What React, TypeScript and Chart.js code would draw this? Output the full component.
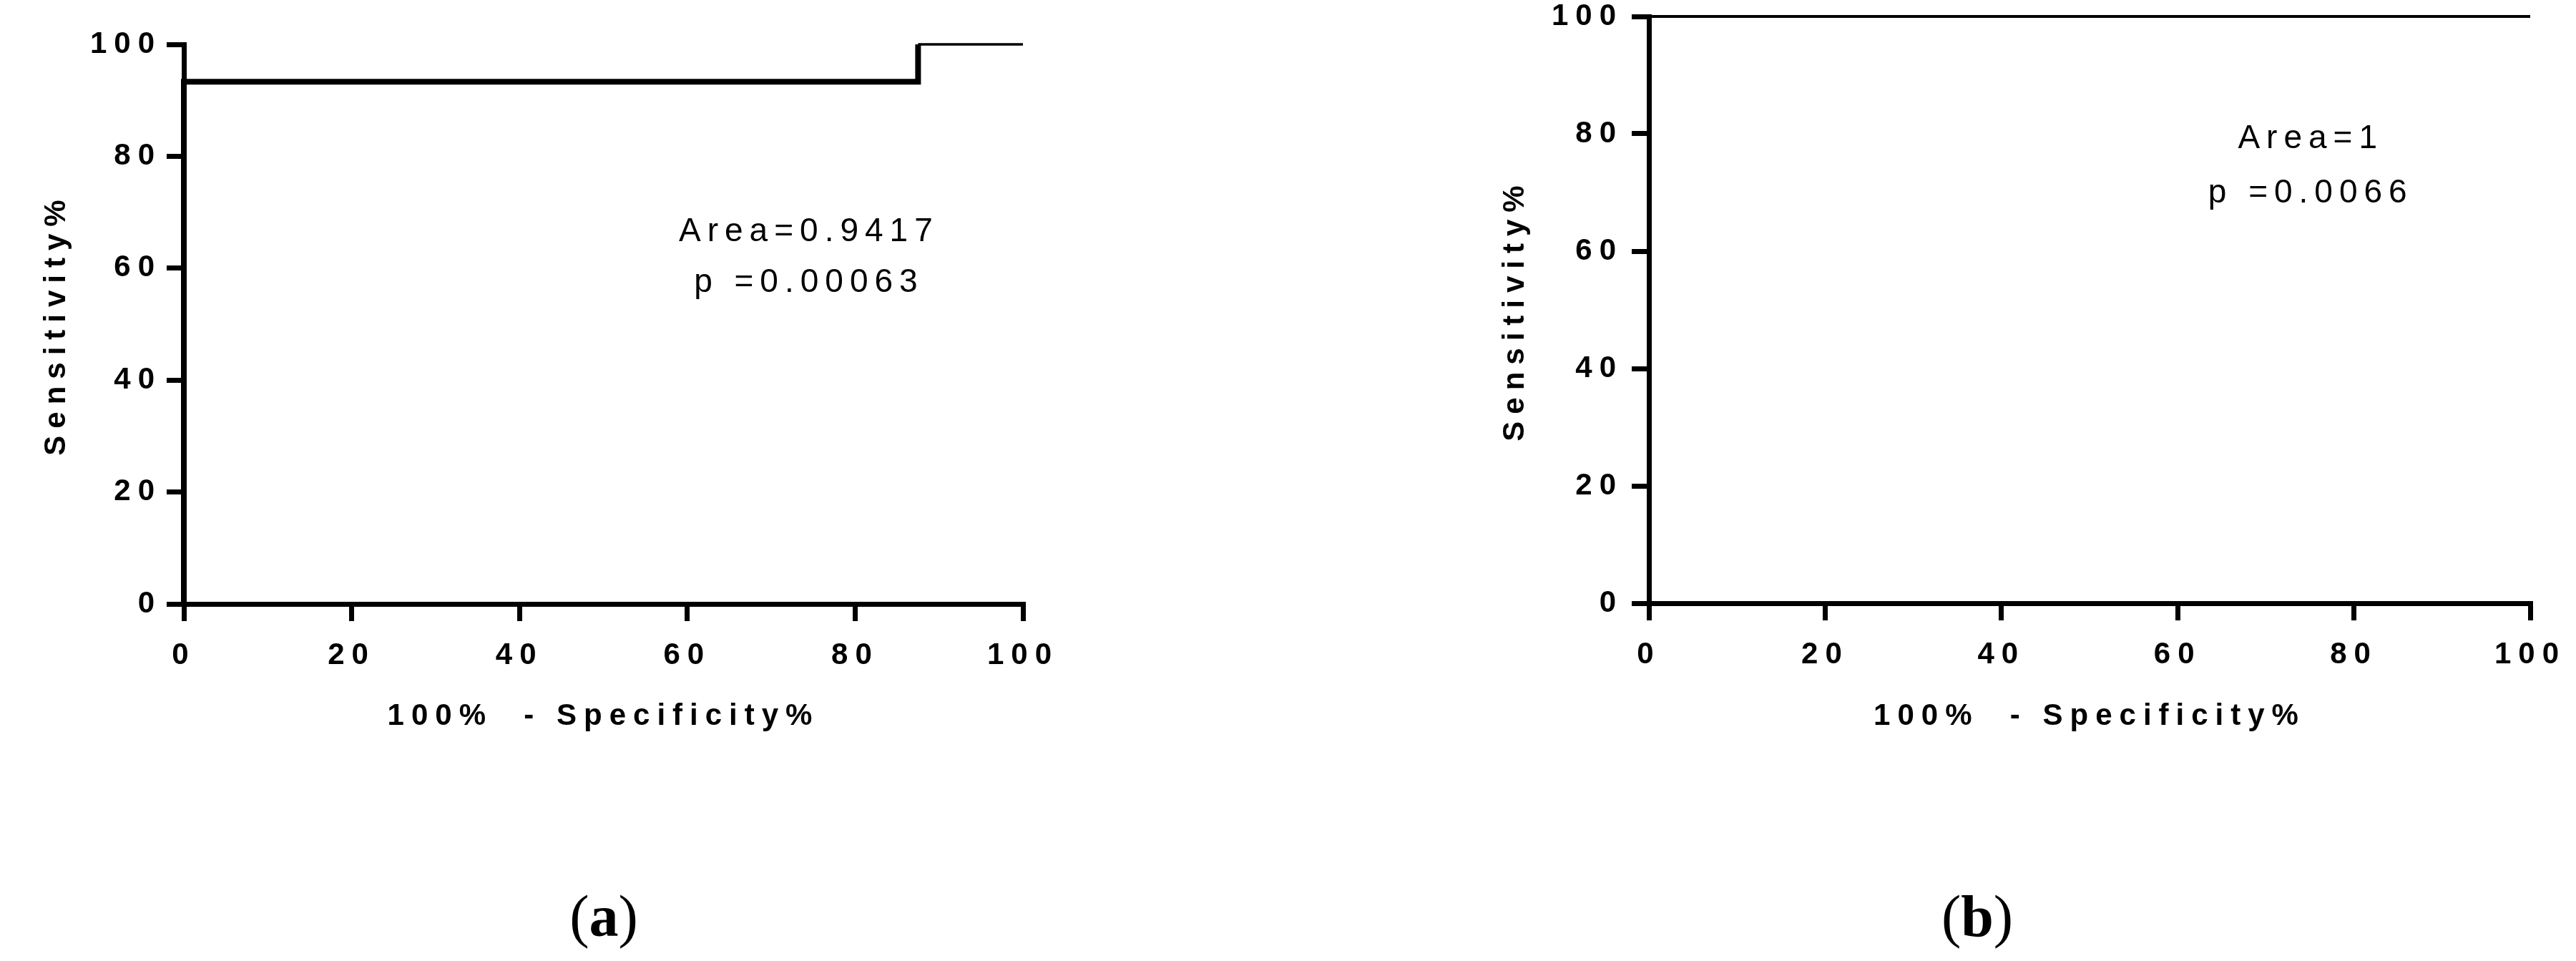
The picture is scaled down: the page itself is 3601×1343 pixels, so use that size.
import React, { useEffect, useRef } from 'react';
import { Chart, registerables } from 'chart.js';

Chart.register(...registerables);

// ---- data ----
const fprA = [0, 0, 87.5, 87.5, 100];
const sensA = [0, 93.33, 93.33, 100, 100];
const fprB = [0, 0, 100];
const sensB = [0, 100, 100];
const xTicks = [0, 20, 40, 60, 80, 100];
const yTicks = [0, 20, 40, 60, 80, 100];
const annotA = ['Area=0.9417', 'p =0.00063'];
const annotB = ['Area=1', 'p =0.0066'];
const xTitle = '100%  - Specificity%';
const yTitle = 'Sensitivity%';
const panelLabels = ['a', 'b'];

const SANS = '"Liberation Sans", Arial, Helvetica, sans-serif';

type PanelCfg = {
  fpr: number[];
  sens: number[];
  annot: string[];
  annotX: number;
  annotY: number[];
  left: number;
  width: number;
  height: number;
  padLeft: number;
  padRight: number;
  padTop: number;
  yWidth: number;
  xHeight: number;
  yTickPad: number;
  segWidth: (i: number) => number;
};

const panels: PanelCfg[] = [
  {
    fpr: fprA,
    sens: sensA,
    annot: annotA,
    annotX: 74.5,
    annotY: [66.5, 57.4],
    left: 0,
    width: 1560,
    height: 1027,
    padLeft: 54,
    padRight: 130,
    padTop: 62,
    yWidth: 203,
    xHeight: 183,
    yTickPad: 7,
    segWidth: (i) => (i >= 4 ? 3.5 : 8),
  },
  {
    fpr: fprB,
    sens: sensB,
    annot: annotB,
    annotX: 75.1,
    annotY: [79.1, 69.8],
    left: 1800,
    width: 1801,
    height: 1027,
    padLeft: 293,
    padRight: 64,
    padTop: 23,
    yWidth: 212,
    xHeight: 184,
    yTickPad: 12,
    segWidth: () => 4,
  },
];

function RocChart({ cfg }: { cfg: PanelCfg }) {
  const ref = useRef<HTMLCanvasElement | null>(null);

  useEffect(() => {
    if (!ref.current) return;
    const tickFont = { family: SANS, size: 42, weight: 'bold' as const, lineHeight: 1.2 };
    const spacing = {
      id: 'spacing',
      beforeUpdate(chart: any) {
        chart.ctx.letterSpacing = '10px';
      },
      beforeDraw(chart: any) {
        chart.ctx.letterSpacing = '10px';
      },
    };
    const annotPlugin = {
      id: 'annot',
      afterDraw(chart: any) {
        const ctx = chart.ctx;
        const xs = chart.scales.x;
        const ys = chart.scales.y;
        ctx.save();
        ctx.letterSpacing = '9px';
        ctx.font = `46px ${SANS}`;
        ctx.fillStyle = '#000';
        ctx.textAlign = 'center';
        ctx.textBaseline = 'middle';
        cfg.annot.forEach((t, i) => {
          ctx.fillText(t, xs.getPixelForValue(cfg.annotX), ys.getPixelForValue(cfg.annotY[i]));
        });
        ctx.restore();
      },
    };

    const chart = new Chart(ref.current, {
      type: 'line',
      data: {
        datasets: [
          {
            data: cfg.fpr.map((x, i) => ({ x, y: cfg.sens[i] })),
            borderColor: '#000',
            borderWidth: 8,
            pointRadius: 0,
            fill: false,
            tension: 0,
            borderJoinStyle: 'miter',
            borderCapStyle: 'butt',
            clip: 12,
            segment: {
              borderWidth: (c: any) => cfg.segWidth(c.p1DataIndex),
            },
          } as any,
        ],
      },
      options: {
        responsive: false,
        maintainAspectRatio: false,
        animation: false,
        layout: { padding: { left: cfg.padLeft, right: cfg.padRight, top: cfg.padTop, bottom: 0 } },
        plugins: { legend: { display: false }, tooltip: { enabled: false }, title: { display: false } },
        scales: {
          x: {
            type: 'linear',
            min: 0,
            max: 100,
            afterBuildTicks: (s: any) => {
              s.ticks = xTicks.map((v) => ({ value: v }));
            },
            afterFit: (s: any) => {
              s.height = cfg.xHeight;
              s.paddingLeft = 0;
              s.paddingRight = 0;
            },
            grid: { display: true, drawOnChartArea: false, drawTicks: true, tickLength: 24, lineWidth: 7, color: '#000' },
            border: { display: true, width: 7, color: '#000' },
            ticks: { color: '#000', font: tickFont, padding: 23, maxRotation: 0, autoSkip: false },
            title: { display: true, text: xTitle, color: '#000', font: tickFont, padding: 0 },
          },
          y: {
            type: 'linear',
            min: 0,
            max: 100,
            afterBuildTicks: (s: any) => {
              s.ticks = yTicks.map((v) => ({ value: v }));
            },
            afterFit: (s: any) => {
              s.width = cfg.yWidth;
              s.paddingTop = 0;
              s.paddingBottom = 0;
            },
            grid: { display: true, drawOnChartArea: false, drawTicks: true, tickLength: 24, lineWidth: 7, color: '#000' },
            border: { display: true, width: 7, color: '#000' },
            ticks: { color: '#000', font: tickFont, padding: cfg.yTickPad, autoSkip: false },
            title: { display: true, text: yTitle, color: '#000', font: tickFont, padding: 0 },
          },
        },
      } as any,
      plugins: [spacing, annotPlugin],
    });
    return () => chart.destroy();
  }, [cfg]);

  return (
    <canvas
      ref={ref}
      width={cfg.width}
      height={cfg.height}
      style={{ position: 'absolute', left: cfg.left, top: 0, width: cfg.width, height: cfg.height }}
    />
  );
}

const labelCenters = [844, 2764];

export default function App() {
  return (
    <div
      style={{
        position: 'fixed',
        left: 0,
        top: 0,
        width: 3601,
        height: 1343,
        background: '#fff',
        overflow: 'hidden',
      }}
    >
      {panels.map((p, i) => (
        <RocChart key={i} cfg={p} />
      ))}
      {panelLabels.map((l, i) => (
        <div
          key={l}
          style={{
            position: 'absolute',
            left: labelCenters[i] - 150,
            width: 300,
            top: 1240,
            textAlign: 'center',
            fontFamily: '"Liberation Serif", "DejaVu Serif", serif',
            fontSize: 82,
            lineHeight: 1,
            color: '#000',
          }}
        >
          (<b>{l}</b>)
        </div>
      ))}
    </div>
  );
}
